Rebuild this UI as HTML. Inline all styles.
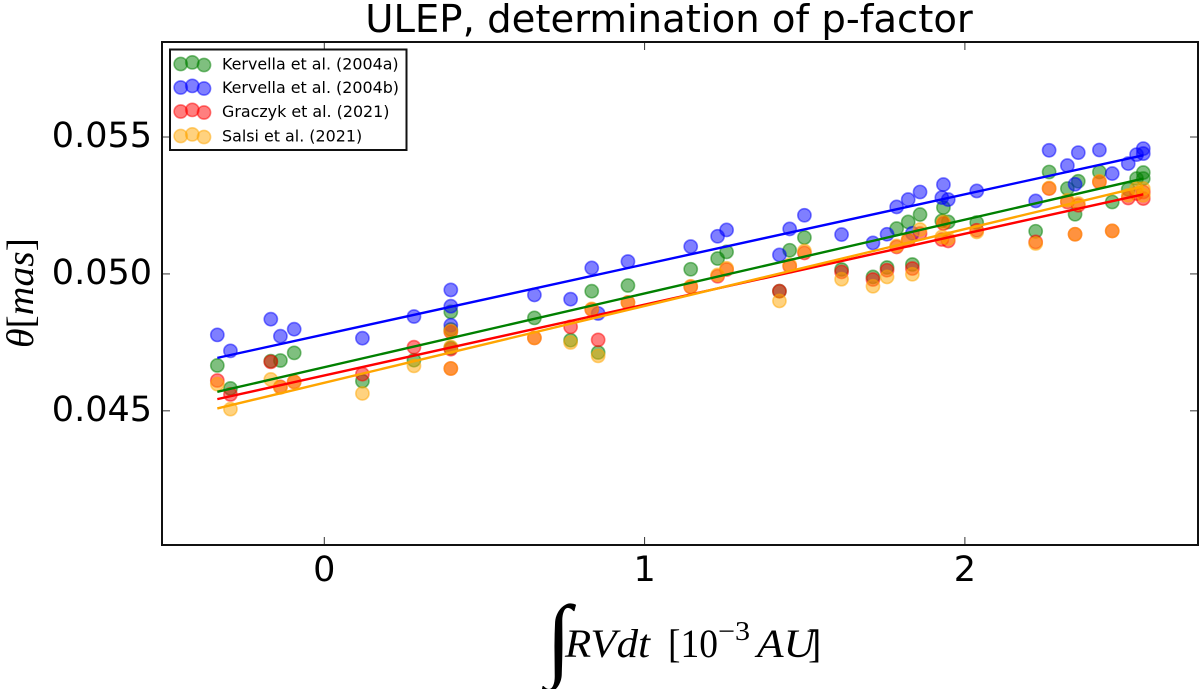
<!DOCTYPE html>
<html>
<head>
<meta charset="utf-8">
<title>ULEP, determination of p-factor</title>
<style>
html,body{margin:0;padding:0;background:#fff;width:1200px;height:689px;overflow:hidden}
svg{display:block;filter:blur(0.35px)}
text{fill:#000}
.sans{font-family:"DejaVu Sans","Liberation Sans",sans-serif}
.math{font-family:"Liberation Serif",serif}
</style>
</head>
<body>
<svg id="chart" xmlns="http://www.w3.org/2000/svg" width="1200" height="689" viewBox="0 0 1200 689">
  <rect x="162" y="42" width="1036" height="503" fill="#fff"/>
  <g id="series-layer"></g>
  <g id="fit-layer"></g>
  <g id="tick-layer"></g>
  <rect x="162" y="42" width="1036" height="503" fill="none" stroke="#111" stroke-width="2"/>
  <text class="sans" x="669" y="32" font-size="38.6" text-anchor="middle">ULEP, determination of p-factor</text>
  <text class="math" transform="translate(33,348) rotate(-90)" font-size="38" textLength="110" lengthAdjust="spacingAndGlyphs"><tspan font-style="italic">θ</tspan>[<tspan font-style="italic">mas</tspan>]</text>
  <g class="math">
    <text x="546" y="669" font-size="92" font-style="italic">∫</text>
    <text x="565" y="657" font-size="40" font-style="italic" textLength="85" lengthAdjust="spacingAndGlyphs">RVdt</text>
    <text x="668" y="657" font-size="40" textLength="50" lengthAdjust="spacingAndGlyphs">[10</text>
    <text x="718" y="640" font-size="27" textLength="32" lengthAdjust="spacingAndGlyphs">−3</text>
    <text x="757" y="657" font-size="40" font-style="italic" textLength="58" lengthAdjust="spacingAndGlyphs">AU</text>
    <text x="808" y="657" font-size="40">]</text>
  </g>
  <g id="legend">
    <rect x="170" y="49.5" width="236.5" height="100.5" fill="#fff" stroke="#111" stroke-width="2"/>
  </g>
</svg>
<script>
// Epochs: integral of RV dt [10^-3 AU]
const epochs = [-0.334,-0.293,-0.167,-0.137,-0.094,0.119,0.280,0.395,0.395,0.395,0.656,0.769,0.835,0.855,0.948,1.144,1.228,1.256,1.421,1.453,1.499,1.615,1.713,1.757,1.787,1.823,1.860,1.836,1.933,1.928,1.948,2.037,2.221,2.263,2.320,2.344,2.354,2.420,2.460,2.510,2.536,2.557,2.557];

// Angular diameters [10^-3 mas]
const kervellaA = [46.657,45.817,46.814,46.839,47.116,46.084,46.850,48.613,47.971,47.299,48.394,47.580,49.369,47.131,49.577,50.172,50.562,50.803,49.369,50.865,51.329,50.161,49.890,50.234,51.657,51.898,52.168,50.343,52.424,51.935,51.898,51.876,51.559,53.723,53.117,52.179,53.384,53.723,52.628,53.092,53.482,53.701,53.482];
const kervellaB = [47.773,47.189,48.347,47.726,47.982,47.653,48.445,49.416,48.821,48.128,49.233,49.077,50.219,48.555,50.453,51.000,51.376,51.606,50.694,51.643,52.143,51.438,51.132,51.449,52.446,52.716,52.993,51.486,53.263,52.789,52.716,53.030,52.665,54.515,53.957,53.274,54.431,54.526,53.665,54.030,54.358,54.577,54.395];
const graczyk = [46.109,45.598,46.788,45.875,46.058,46.339,47.325,47.883,47.252,46.547,47.664,48.065,48.701,47.591,48.956,49.525,49.916,50.161,49.369,50.281,50.767,50.073,49.796,50.135,50.986,51.230,51.475,50.197,51.840,51.256,51.205,51.595,51.168,53.117,52.628,51.449,52.508,53.358,51.570,52.774,52.935,52.752,52.993];
const salsi = [45.974,45.062,46.146,45.854,46.058,45.635,46.642,47.919,47.335,46.547,47.664,47.496,48.722,47.007,48.956,49.551,49.963,50.208,49.014,50.329,50.840,49.807,49.551,49.890,51.022,51.256,51.621,49.989,51.898,51.351,51.292,51.533,51.110,53.139,52.690,51.449,52.570,53.384,51.570,52.873,53.117,52.873,53.117];

// Linear fits: value at the first and last epoch
const fitRange = [-0.334, 2.557];
const fitKervellaA = [45.693, 53.482];
const fitKervellaB = [46.934, 54.333];
const fitGraczyk = [45.427, 52.909];
const fitSalsi = [45.087, 53.201];

const seriesNames = ['Kervella et al. (2004a)','Kervella et al. (2004b)','Graczyk et al. (2021)','Salsi et al. (2021)'];
const seriesColors = ['#008000','#0000ff','#ff0000','#ffa500'];
const seriesValues = [kervellaA,kervellaB,graczyk,salsi];
const seriesFits = [fitKervellaA,fitKervellaB,fitGraczyk,fitSalsi];
const seriesKeys = ['kervella-2004a','kervella-2004b','graczyk-2021','salsi-2021'];

const xTicks = [0,1,2];
const yTicks = [45,50,55];
const yTickLabels = ['0.045','0.050','0.055'];

const SVGNS = 'http://www.w3.org/2000/svg';
const plot = {left:162,right:1198,top:42,bottom:545};
const xDomain = [-0.5067, 2.7278];
const yDomain = [40.1, 58.47];

function xScale(v){
  return plot.left + (v - xDomain[0]) / (xDomain[1] - xDomain[0]) * (plot.right - plot.left);
}
function yScale(v){
  return plot.bottom - (v - yDomain[0]) / (yDomain[1] - yDomain[0]) * (plot.bottom - plot.top);
}
function make(tag, attrs){
  const el = document.createElementNS(SVGNS, tag);
  for (const k in attrs) el.setAttribute(k, attrs[k]);
  return el;
}
function makeDot(cx, cy, color){
  return make('circle', {cx:cx, cy:cy, r:6.6, fill:color, 'fill-opacity':0.5, stroke:color, 'stroke-opacity':0.5, 'stroke-width':1.6});
}

const seriesLayer = document.getElementById('series-layer');
const fitLayer = document.getElementById('fit-layer');
const tickLayer = document.getElementById('tick-layer');
const legend = document.getElementById('legend');

seriesValues.forEach(function(values, s){
  const group = make('g', {});
  
  
  values.forEach(function(v, i){
    const dot = makeDot(xScale(epochs[i]), yScale(v), seriesColors[s]);
    
    
    group.appendChild(dot);
  });
  seriesLayer.appendChild(group);

  const fit = make('line', {
    x1:xScale(fitRange[0]), y1:yScale(seriesFits[s][0]),
    x2:xScale(fitRange[1]), y2:yScale(seriesFits[s][1]),
    stroke:seriesColors[s], 'stroke-width':2.4
  });
  
  
  fitLayer.appendChild(fit);
});

xTicks.forEach(function(t){
  const x = xScale(t);
  const bottomTick = make('line', {x1:x, x2:x, y1:plot.bottom, y2:plot.bottom-8, stroke:'#333', 'stroke-width':1});
  
  
  tickLayer.appendChild(bottomTick);
  const topTick = make('line', {x1:x, x2:x, y1:plot.top, y2:plot.top+8, stroke:'#333', 'stroke-width':1});
  
  
  tickLayer.appendChild(topTick);
  const label = make('text', {x:x, y:581, 'font-size':35, 'text-anchor':'middle', class:'sans'});
  label.textContent = String(t);
  
  
  tickLayer.appendChild(label);
});

yTicks.forEach(function(t, i){
  const y = yScale(t);
  const leftTick = make('line', {x1:plot.left, x2:plot.left+8, y1:y, y2:y, stroke:'#333', 'stroke-width':1});
  
  
  tickLayer.appendChild(leftTick);
  const rightTick = make('line', {x1:plot.right, x2:plot.right-8, y1:y, y2:y, stroke:'#333', 'stroke-width':1});
  
  
  tickLayer.appendChild(rightTick);
  const label = make('text', {x:152, y:y+10, 'font-size':35, 'text-anchor':'end', class:'sans'});
  label.textContent = yTickLabels[i];
  
  
  tickLayer.appendChild(label);
});

const legendRowY = [64, 87.5, 111.5, 136];
const legendDotX = [180.7, 192.3, 204];
const legendDotJitter = [0, -1.6, 1];
seriesNames.forEach(function(name, s){
  const entry = make('g', {});
  
  
  legendDotX.forEach(function(x, j){
    const dot = makeDot(x, legendRowY[s] + legendDotJitter[j], seriesColors[s]);
    
    
    entry.appendChild(dot);
  });
  const label = make('text', {x:222, y:legendRowY[s]+5.5, 'font-size':15.9, class:'sans'});
  label.textContent = name;
  
  
  entry.appendChild(label);
  legend.appendChild(entry);
});
</script>
</body>
</html>
